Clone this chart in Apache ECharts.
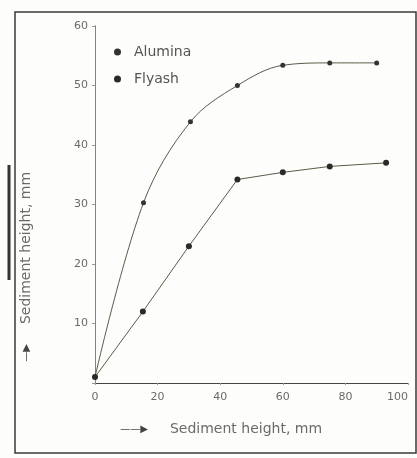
<!DOCTYPE html>
<html>
<head>
    <meta charset="UTF-8">
    <title>Sediment height</title>
    <script src="https://cdn.jsdelivr.net/npm/echarts@6/dist/echarts.min.js"></script>
</head>
<body style="margin:0;overflow:hidden;background:#fff;">
<div id="chart" style="width:417px;height:458px;"></div>
<script type="text/javascript">
    var seriesNames = ['Alumina', 'Flyash'];
    var aluminaX = [0, 15.5, 30.5, 45.5, 60, 75, 90];
    var aluminaY = [1, 30.3, 43.9, 50, 53.4, 53.8, 53.8];
    var flyashX = [0, 15.3, 30, 45.5, 60, 75, 93];
    var flyashY = [1, 12, 23, 34.2, 35.4, 36.4, 37];
    var xTicks = [0, 20, 40, 60, 80, 100];

    function pairs(xs, ys) {
        return xs.map(function (x, i) { return [x, ys[i]]; });
    }

    var textColor = '#6a6a6a';
    var lineColor = '#5e5a48';
    var chart = echarts.init(document.getElementById('chart'), null, {renderer: 'canvas'});
    var option = {
        backgroundColor: '#fdfdfb',
        animation: false,
        grid: {left: 95, right: 9, top: 26, bottom: 75, containLabel: false, outerBoundsMode: 'none'},
        legend: {
            data: seriesNames,
            orient: 'vertical',
            left: 109,
            top: 40,
            icon: 'circle',
            itemWidth: 7,
            itemHeight: 7,
            itemGap: 13,
            textStyle: {color: '#555', fontSize: 14, fontFamily: 'DejaVu Sans', padding: [0, 0, 0, 8]}
        },
        xAxis: [{
            type: 'value',
            min: 0,
            max: xTicks[xTicks.length - 1],
            interval: 20,
            axisLine: {lineStyle: {color: '#f1ecd2', width: 1}},
            axisTick: {length: 2, lineStyle: {color: '#999'}},
            splitLine: {show: false},
            axisLabel: {color: textColor, fontSize: 11, margin: 9, fontFamily: 'DejaVu Sans',
                alignMaxLabel: 'right'}
        }, {
            type: 'value',
            position: 'top',
            min: 0,
            max: 100,
            axisLine: {show: true, lineStyle: {color: '#444', width: 1.2}},
            axisTick: {show: false},
            axisLabel: {show: false},
            splitLine: {show: false}
        }],
        yAxis: [{
            type: 'value',
            min: 0,
            max: 60,
            interval: 10,
            axisLine: {show: true, lineStyle: {color: '#5a5a5a', width: 1}},
            axisTick: {show: true, length: 3, lineStyle: {color: '#999'}},
            splitLine: {show: false},
            axisLabel: {
                color: textColor, fontSize: 11, margin: 7, fontFamily: 'DejaVu Sans',
                formatter: function (v) { return v === 0 ? '' : v; }
            }
        }, {
            type: 'value',
            position: 'right',
            min: 0,
            max: 60,
            axisLine: {show: true, lineStyle: {color: '#8a8468', width: 1}},
            axisTick: {show: false},
            axisLabel: {show: false},
            splitLine: {show: false}
        }],
        series: [{
            name: seriesNames[0],
            type: 'line',
            smooth: 0.35,
            symbol: 'circle',
            symbolSize: 5,
            itemStyle: {color: '#333'},
            lineStyle: {color: lineColor, width: 1},
            data: pairs(aluminaX, aluminaY)
        }, {
            name: seriesNames[1],
            type: 'line',
            smooth: false,
            symbol: 'circle',
            symbolSize: 6,
            itemStyle: {color: '#2a2a2a'},
            lineStyle: {color: lineColor, width: 1},
            data: pairs(flyashX, flyashY)
        }],
        graphic: [{
            type: 'rect',
            shape: {x: 15, y: 12, width: 401, height: 441},
            style: {fill: 'none', stroke: '#3a3a3a', lineWidth: 1.5},
            silent: true
        }, {
            type: 'line',
            shape: {x1: 9, y1: 165, x2: 9, y2: 280},
            style: {stroke: '#333', lineWidth: 3},
            silent: true
        }, {
            type: 'text',
            x: 26,
            y: 248,
            rotation: Math.PI / 2,
            style: {
                text: 'Sediment height, mm',
                fill: textColor,
                font: '14px DejaVu Sans',
                align: 'center',
                verticalAlign: 'middle'
            }
        }, {
            type: 'text',
            x: 26,
            y: 353,
            rotation: Math.PI / 2,
            style: {
                text: '\u2014\u25B6',
                fill: '#444',
                font: '10px DejaVu Sans',
                align: 'center',
                verticalAlign: 'middle'
            }
        }, {
            type: 'text',
            x: 134,
            y: 429,
            style: {
                text: '\u2014\u2014\u25B6',
                fill: '#444',
                font: '10px DejaVu Sans',
                align: 'center',
                verticalAlign: 'middle'
            }
        }, {
            type: 'text',
            x: 246,
            y: 429,
            style: {
                text: 'Sediment height, mm',
                fill: textColor,
                font: '14px DejaVu Sans',
                align: 'center',
                verticalAlign: 'middle'
            }
        }]
    };
    chart.setOption(option);
</script>
</body>
</html>
